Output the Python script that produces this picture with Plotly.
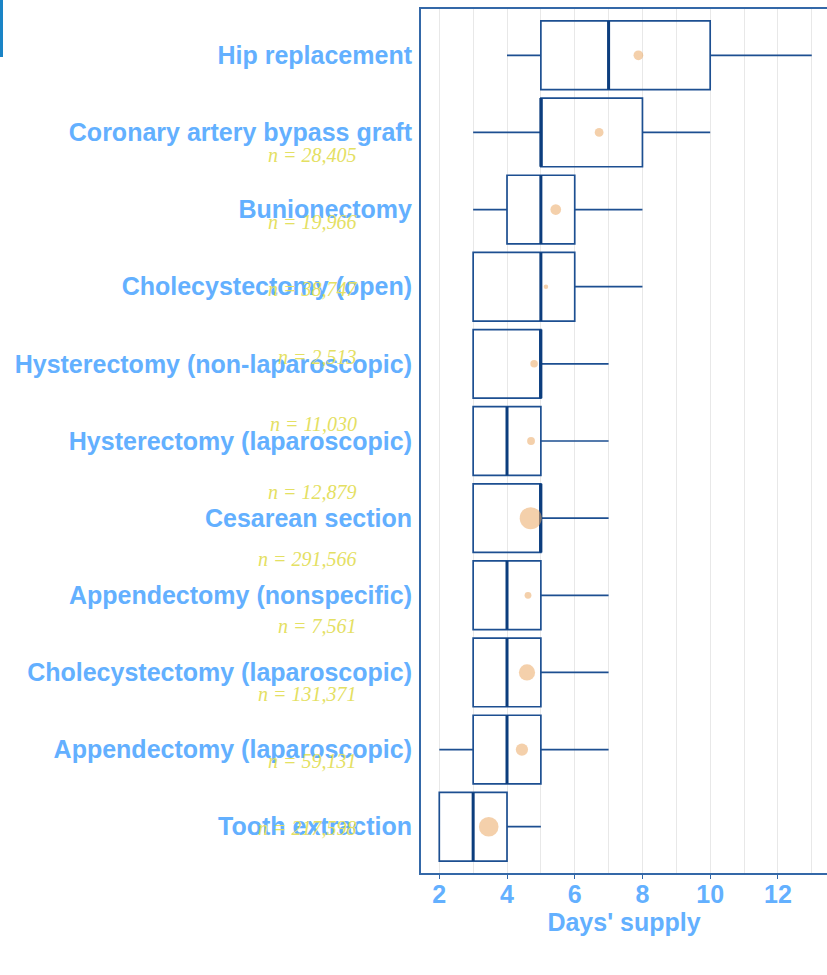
import numpy as np
import plotly.graph_objects as go

# procedures, top to bottom
procedures = [
    "Hip replacement",
    "Coronary artery bypass graft",
    "Bunionectomy",
    "Cholecystectomy (open)",
    "Hysterectomy (non-laparoscopic)",
    "Hysterectomy (laparoscopic)",
    "Cesarean section",
    "Appendectomy (nonspecific)",
    "Cholecystectomy (laparoscopic)",
    "Appendectomy (laparoscopic)",
    "Tooth extraction",
]
whisker_low = [4, 3, 3, 3, 3, 3, 3, 3, 3, 2, 2]
q1 = [5, 5, 4, 3, 3, 3, 3, 3, 3, 3, 2]
median = [7, 5, 5, 5, 5, 4, 5, 4, 4, 4, 3]
q3 = [10, 8, 6, 6, 5, 5, 5, 5, 5, 5, 4]
whisker_high = [13, 10, 8, 8, 7, 7, 7, 7, 7, 7, 5]
mean_days = [7.88, 6.72, 5.44, 5.15, 4.80, 4.71, 4.70, 4.62, 4.59, 4.44, 3.46]
n_patients = [28405, 19966, 38747, 2513, 11030, 12879, 291566, 7561, 131371, 59131, 217598]

x_ticks = [2, 4, 6, 8, 10, 12]

# colours / fonts
LABEL_BLUE = "#63b0ff"
BOX_BLUE = "#1d4f91"
MEDIAN_BLUE = "#0c3d7d"
AXIS_BLUE = "#3468a8"
DOT = "rgba(235,165,95,0.75)"
N_YELLOW = "#e4e062"
SANS = "Liberation Sans, Arial"
SERIF = "Liberation Serif, Times New Roman, serif"

W, H = 827, 975
ML, MR, MT, MB = 421, 0, 9, 102
PW, PH = W - ML - MR, H - MT - MB

# dot size ~ sqrt of rescaled n (ggplot area scale)
n_arr = np.array(n_patients, dtype=float)
dot_size = 4.5 + 17.5 * np.sqrt((n_arr - n_arr.min()) / (n_arr.max() - n_arr.min()))

fig = go.Figure()

fig.add_trace(go.Box(
    y=procedures, q1=q1, median=median, q3=q3,
    lowerfence=whisker_low, upperfence=whisker_high,
    orientation="h", width=0.89, whiskerwidth=0,
    fillcolor="rgba(0,0,0,0)", line=dict(color=BOX_BLUE, width=1.7),
    boxpoints=False, showlegend=False, hoverinfo="skip",
))
# thicker median line: zero-width box sitting on the median
fig.add_trace(go.Box(
    y=procedures, q1=median, median=median, q3=median,
    lowerfence=median, upperfence=median,
    orientation="h", width=0.89, whiskerwidth=0,
    fillcolor="rgba(0,0,0,0)", line=dict(color=MEDIAN_BLUE, width=3),
    boxpoints=False, showlegend=False, hoverinfo="skip",
))
fig.add_trace(go.Scatter(
    x=mean_days, y=procedures, mode="markers",
    marker=dict(size=dot_size, sizemode="diameter", color=DOT, line=dict(width=0)),
    showlegend=False, hoverinfo="skip",
))

# n labels, on their own (slightly compressed) vertical scale
for i, (p, n) in enumerate(zip(procedures, n_patients)):
    fig.add_annotation(
        x=-62 / PW, xref="paper", xanchor="right",
        y=len(procedures) - 1 - i, yref="y2", yanchor="middle",
        text=f"n = {n:,}", showarrow=False,
        font=dict(family=SERIF, size=20, color=N_YELLOW, style="italic"),
    )

fig.update_layout(
    width=W, height=H,
    margin=dict(l=ML, r=MR, t=MT, b=MB, autoexpand=False),
    plot_bgcolor="white", paper_bgcolor="white",
    boxmode="overlay",
    xaxis=dict(
        range=[1.46, 13.45], tickvals=x_ticks, automargin=False,
        showgrid=True, gridcolor="#e8e8e8", gridwidth=1,
        minor=dict(dtick=1, tick0=0, showgrid=True, gridcolor="#e8e8e8", gridwidth=1),
        zeroline=False,
        showline=True, linecolor=AXIS_BLUE, linewidth=2, mirror=True,
        ticks="outside", ticklen=4, tickcolor=AXIS_BLUE, ticklabelstandoff=-6,
        tickfont=dict(family=SANS, size=25, color=LABEL_BLUE, weight="bold"),
        title=dict(text="Days' supply", standoff=6,
                   font=dict(family=SANS, size=25, color=LABEL_BLUE, weight="bold")),
    ),
    yaxis=dict(
        type="category", categoryorder="array", categoryarray=procedures[::-1],
        range=[-0.6, len(procedures) - 0.4], automargin=False,
        showgrid=False, zeroline=False,
        showline=True, linecolor=AXIS_BLUE, linewidth=2,
        ticks="", ticklabelstandoff=2,
        tickfont=dict(family=SANS, size=25, color=LABEL_BLUE, weight="bold"),
    ),
    yaxis2=dict(
        overlaying="y", range=[-0.664, 12.164], visible=False,
    ),
    shapes=[dict(
        type="rect", xref="paper", yref="paper",
        x0=-ML / PW, x1=(3 - ML) / PW,
        y0=1 - (57 - MT) / PH, y1=1 + MT / PH,
        fillcolor="#1a84c6", line=dict(width=0), layer="above",
    )],
)

# no body margin / scrollbars, so the figure fills the window
fig.write_html(
    "out.html",
    config={"displayModeBar": False},
    post_script="document.body.style.margin='0';"
                "document.documentElement.style.overflow='hidden';",
)
